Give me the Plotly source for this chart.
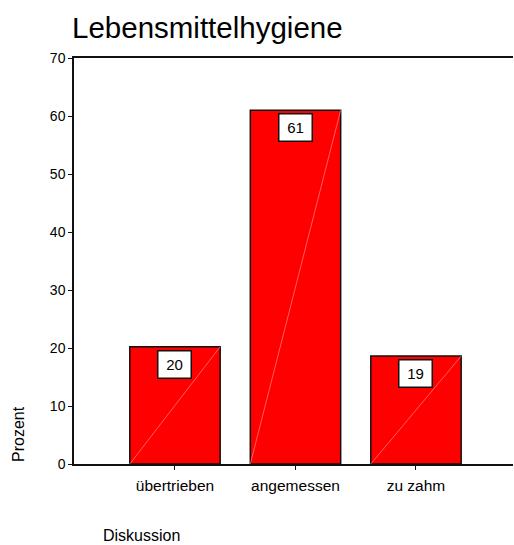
import plotly.graph_objects as go

# Lebensmittelhygiene – Antworten in Prozent
categories = ["übertrieben", "angemessen", "zu zahm"]
percent = [20.2, 61.0, 18.6]
value_labels = [f"{round(v)}" for v in percent]
y_ticks = [0, 10, 20, 30, 40, 50, 60, 70]

positions = list(range(len(categories)))
bar_width = 0.75
font = "Liberation Sans, Arial, sans-serif"

fig = go.Figure()

fig.add_trace(go.Bar(
    x=positions,
    y=percent,
    width=bar_width,
    marker=dict(color="#ff0000", line=dict(color="#111111", width=1.5)),
    hoverinfo="skip",
    showlegend=False,
))

# faint diagonal inside each bar (bottom-left to top-right corner)
for p, v in zip(positions, percent):
    fig.add_trace(go.Scatter(
        x=[p - bar_width / 2, p + bar_width / 2],
        y=[0, v],
        mode="lines",
        line=dict(color="rgba(255,160,160,1)", width=0.6),
        hoverinfo="skip",
        showlegend=False,
    ))

# value boxes hanging just below each bar top
for p, v, t in zip(positions, percent, value_labels):
    fig.add_annotation(
        x=p, y=v, xref="x", yref="y",
        text=t, showarrow=False,
        yanchor="top", yshift=-3,
        width=24, height=18,
        bgcolor="white", bordercolor="#111111", borderwidth=1.5, borderpad=4,
        font=dict(family=font, size=15, color="black"),
    )

fig.add_annotation(
    text="Prozent", xref="paper", yref="paper", x=0, y=0,
    xanchor="center", yanchor="bottom", xshift=-56, textangle=-90,
    showarrow=False, font=dict(family=font, size=16, color="black"),
)
fig.add_annotation(
    text="Diskussion", xref="paper", yref="paper", x=0, y=0,
    xanchor="left", yanchor="middle", xshift=27, yshift=-71,
    showarrow=False, font=dict(family=font, size=16, color="black"),
)

fig.update_layout(
    width=514, height=545,
    margin=dict(l=74, r=1, t=58, b=81),
    paper_bgcolor="white", plot_bgcolor="white",
    title=dict(
        text="Lebensmittelhygiene", xref="container", yref="container",
        x=72 / 514, xanchor="left", y=1 - 28 / 545, yanchor="middle",
        font=dict(family=font, size=29.5, color="black"),
    ),
    xaxis=dict(
        range=[-0.838, 2.805], tickvals=positions, ticktext=categories,
        showline=True, linecolor="#111111", linewidth=1.5, mirror=True,
        ticks="outside", ticklen=4, tickcolor="#111111",
        showgrid=False, zeroline=False, ticklabelstandoff=3,
        tickfont=dict(family=font, size=15.5, color="black"),
    ),
    yaxis=dict(
        range=[0, 70], tickvals=y_ticks,
        showline=True, linecolor="#111111", linewidth=1.5,
        ticks="outside", ticklen=4, tickcolor="#111111",
        showgrid=False, zeroline=False,
        tickfont=dict(family=font, size=14, color="black"),
    ),
)

fig.write_html("out.html")
